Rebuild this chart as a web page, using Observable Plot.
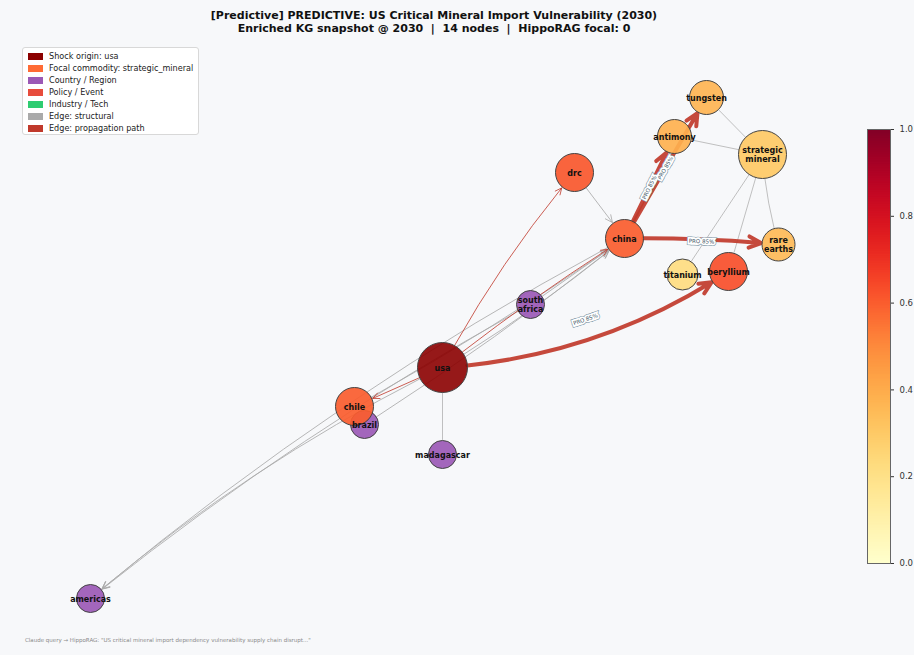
<!DOCTYPE html>
<html><head><meta charset="utf-8">
<script src="https://cdn.jsdelivr.net/npm/d3@7"></script>
<script src="https://cdn.jsdelivr.net/npm/@observablehq/plot@0.6"></script>
<style>
body{margin:0;background:#f7f8fa;font-family:"DejaVu Sans",sans-serif;}
#wrap{position:relative;width:914px;height:655px;overflow:hidden;background:#f7f8fa;}
#title{position:absolute;left:0;top:9px;width:868px;text-align:center;font-weight:bold;font-size:11px;line-height:13px;color:#111;}
#chart{position:absolute;left:0;top:38px;}
#cbar{position:absolute;left:860px;top:120px;}
#legend{position:absolute;left:22px;top:47px;width:177px;height:88px;background:#fff;border:1px solid #d8d8d8;border-radius:3px;font-size:8.1px;color:#222;box-sizing:border-box;padding-top:2px;}
#legend .row{height:12px;display:flex;align-items:center;white-space:nowrap;}
#legend .sw{width:15px;height:7px;margin-left:5px;margin-right:6px;flex:none;}
#foot{position:absolute;left:25px;top:637px;font-size:5.5px;color:#8a8a8a;white-space:nowrap;}
</style></head>
<body>
<div id="wrap">
  <div id="title"></div>
  <div id="chart"></div>
  <div id="cbar"></div>
  <div id="legend"></div>
  <div id="foot"></div>
</div>
<script>
// ---- text ----
const titleLines = ["[Predictive] PREDICTIVE: US Critical Mineral Import Vulnerability (2030)",
                    "Enriched KG snapshot @ 2030  |  14 nodes  |  HippoRAG focal: 0"];
const footText = "Claude query \u2192 HippoRAG: \"US critical mineral import dependency vulnerability supply chain disrupt...\"";

// ---- legend ----
const legendLabels = ["Shock origin: usa","Focal commodity: strategic_mineral","Country / Region","Policy / Event","Industry / Tech","Edge: structural","Edge: propagation path"];
const legendColors = ["#8b0000","#ff6b35","#9b59b6","#e74c3c","#2ecc71","#aaaaaa","#c0392b"];

// ---- nodes (layout coordinates) ----
const nodeNames  = ["americas","brazil","madagascar","south africa","chile","drc","china","titanium","beryllium","rare earths","antimony","tungsten","strategic mineral","usa"];
const nodeLabels = ["americas","brazil","madagascar","south\nafrica","chile","drc","china","titanium","beryllium","rare\nearths","antimony","tungsten","strategic\nmineral","usa"];
const nodeGroup  = ["country","country","country","country","commodity","commodity","commodity","commodity","commodity","commodity","commodity","commodity","commodity","origin"];
const nodeX      = [-0.85,-0.165,0.03,0.25,-0.19,0.36,0.485,0.63,0.745,0.87,0.61,0.69,0.83,0.03];
const nodeY      = [-0.81,-0.23,-0.33,0.17,-0.17,0.61,0.39,0.27,0.28,0.37,0.73,0.86,0.67,-0.04];
const nodeSize   = [0.56,0.56,0.56,0.56,0.76,0.76,0.76,0.62,0.76,0.66,0.68,0.68,0.96,1.0];
const nodeScore  = [0,0,0,0,0.6,0.61,0.6,0.22,0.63,0.35,0.38,0.37,0.3,0.95];

// ---- edges ----
const edgeSource = ["drc","usa","south africa","brazil","chile","china","south africa","usa","usa","strategic mineral","strategic mineral","strategic mineral","strategic mineral","strategic mineral","usa","usa","usa","china","china","china","usa"];
const edgeTarget = ["china","china","china","china","china","americas","americas","americas","madagascar","tungsten","antimony","rare earths","titanium","beryllium","drc","chile","china","tungsten","antimony","rare earths","beryllium"];
const edgeKind   = ["structural","structural","structural","structural","structural","structural","structural","structural","link","link","link","link","link","link","propagation","propagation","propagation","strong","strong","strong","strong"];
const edgeLabel  = ["","","","","","","","","","","","","","","","","","PRO 85%","PRO 85%","PRO 85%","PRO 85%"];

// styling (not data)
const edgeBend = [0,-4,0,-3,-3,-6,-5,-7,0,0,0,-6,0,0,6,0,3,0,0,3,-15];

const R_RANGE = [0,25];
const rPx = d3.scaleLinear([0,1], R_RANGE);
const X_RANGE = [30,830], Y_RANGE = [617,17];
const xPx = d3.scaleLinear([-1,1], X_RANGE), yPx = d3.scaleLinear([-1,1], Y_RANGE);

const nodes = nodeNames.map((name,i)=>({name,label:nodeLabels[i],group:nodeGroup[i],x:nodeX[i],y:nodeY[i],size:nodeSize[i],score:nodeScore[i]}));
const byName = new Map(nodes.map(n=>[n.name,n]));
const edges = edgeSource.map((s,i)=>({s:byName.get(s),t:byName.get(edgeTarget[i]),kind:edgeKind[i],label:edgeLabel[i],bend:edgeBend[i]}));

// title, legend, foot
document.getElementById("title").innerHTML = titleLines.map(t=>`<div style="white-space:pre">${t}</div>`).join("");
document.getElementById("legend").innerHTML = legendLabels.map((l,i)=>`<div class="row"><div class="sw" style="background:${legendColors[i]}"></div><span>${l}</span></div>`).join("");
document.getElementById("foot").textContent = footText;

const edgeStyle = {
  structural:{stroke:"#aaaaaa",strokeWidth:1,head:12,opacity:0.85},
  link:{stroke:"#b5b5b5",strokeWidth:1,head:0,opacity:0.85},
  propagation:{stroke:"#c0392b",strokeWidth:0.9,head:12,opacity:0.9},
  strong:{stroke:"#c0392b",strokeWidth:4,head:5,opacity:0.92}
};

const edgeMarks = edges.map(e=>{
  const st = edgeStyle[e.kind];
  return Plot.arrow([e],{
    x1:d=>d.s.x,y1:d=>d.s.y,x2:d=>d.t.x,y2:d=>d.t.y,
    bend:e.bend,stroke:st.stroke,strokeWidth:st.strokeWidth,strokeOpacity:st.opacity,
    headLength:st.head,headAngle:50,
    insetStart:rPx(e.s.size),insetEnd:rPx(e.t.size)+1
  });
});

const labelled = edges.filter(e=>e.label);
const labelRotate = d=>{
  const dx = xPx(d.t.x)-xPx(d.s.x), dy = yPx(d.t.y)-yPx(d.s.y);
  let a = Math.atan2(dy,dx)*180/Math.PI;
  if (a>90) a-=180; if (a<-90) a+=180;
  return a;
};
const labelMarks = [
  Plot.text(labelled,{
    x:d=>(d.s.x+d.t.x)/2, y:d=>(d.s.y+d.t.y)/2, text:"label", rotate:labelRotate,
    fontSize:5.5, fill:"#3d5566", stroke:"#7f98a8", strokeWidth:4.6, strokeLinejoin:"miter", fontFamily:"DejaVu Sans"
  }),
  Plot.text(labelled,{
    x:d=>(d.s.x+d.t.x)/2, y:d=>(d.s.y+d.t.y)/2, text:"label", rotate:labelRotate,
    fontSize:5.5, fill:"#3d5566", stroke:"#ffffff", strokeWidth:3.4, strokeLinejoin:"miter", fontFamily:"DejaVu Sans"
  })
];

const chart = Plot.plot({
  width:914, height:617, margin:0,
  style:{background:"transparent",fontFamily:"DejaVu Sans"},
  x:{domain:[-1,1],range:X_RANGE,axis:null},
  y:{domain:[-1,1],range:Y_RANGE,axis:null},
  r:{type:"linear",domain:[0,1],range:R_RANGE},
  color:{type:"linear",scheme:"YlOrRd",domain:[0,1]},
  marks:[
    ...edgeMarks,
    ...labelMarks,
    Plot.dot(nodes.filter(n=>n.group==="country"),{x:"x",y:"y",r:"size",fill:"#9b59b6",fillOpacity:0.92,stroke:"#444",strokeWidth:1}),
    Plot.dot(nodes.filter(n=>n.group==="commodity"),{x:"x",y:"y",r:"size",fill:"score",fillOpacity:0.92,stroke:"#444",strokeWidth:1}),
    Plot.dot(nodes.filter(n=>n.group==="origin"),{x:"x",y:"y",r:"size",fill:"#8b0000",fillOpacity:0.9,stroke:"#444",strokeWidth:1}),
    Plot.text(nodes,{x:"x",y:"y",text:"label",fontSize:8,fontWeight:"bold",fill:"#111",lineHeight:1.2})
  ]
});
document.getElementById("chart").appendChild(chart);

// colorbar
const rampSteps = d3.range(0,1,0.004);
const cbar = Plot.plot({
  width:54, height:455, marginLeft:7, marginRight:24, marginTop:9, marginBottom:12,
  style:{background:"transparent",fontFamily:"DejaVu Sans",fontSize:"8.5px",color:"#333"},
  x:{domain:[0,1],axis:null},
  y:{domain:[0,1],axis:"right",ticks:[0,0.2,0.4,0.6,0.8,1],tickFormat:d3.format(".1f"),tickSize:3,label:null},
  color:{type:"linear",scheme:"YlOrRd",domain:[0,1]},
  marks:[
    Plot.rect(rampSteps,{x1:0,x2:1,y1:d=>d,y2:d=>Math.min(1,d+0.006),fill:d=>d}),
    Plot.frame({stroke:"#666",strokeWidth:1})
  ]
});
document.getElementById("cbar").appendChild(cbar);
</script>
</body></html>
